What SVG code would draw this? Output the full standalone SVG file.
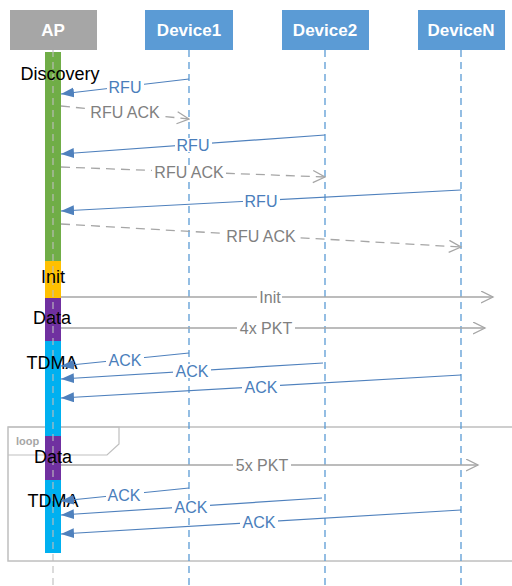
<svg xmlns="http://www.w3.org/2000/svg" width="512" height="586" viewBox="0 0 512 586">
<style>
.hdr{font-family:"Liberation Sans",Arial,sans-serif;font-weight:bold;font-size:17px;fill:#fff;text-anchor:middle}
.lbl{font-family:"Liberation Sans",Arial,sans-serif;font-size:18px;fill:#000;text-anchor:middle}
.mb{font-family:"Liberation Sans",Arial,sans-serif;font-size:16px;fill:#4a7ebb;text-anchor:middle}
.mg{font-family:"Liberation Sans",Arial,sans-serif;font-size:16px;fill:#808080;text-anchor:middle}
.lb{stroke:#4f81bd;stroke-width:1.2;fill:none;marker-end:url(#fa)}
.lg{stroke:#a6a6a6;stroke-width:1.3;fill:none;marker-end:url(#oa)}
.ld{stroke:#a6a6a6;stroke-width:1.3;fill:none;stroke-dasharray:9 6;marker-end:url(#oa)}
.bg{fill:#fff}
.life{stroke:#5b9bd5;stroke-width:1.3;stroke-dasharray:7 5;fill:none}
</style>
<defs>
<marker id="fa" markerUnits="userSpaceOnUse" markerWidth="14" markerHeight="11" refX="13" refY="5" orient="auto"><path d="M0,0 L13,5 L0,10 z" fill="#4f81bd"/></marker>
<marker id="oa" markerUnits="userSpaceOnUse" markerWidth="14" markerHeight="14" refX="12.5" refY="6.5" orient="auto"><path d="M0.5,0.5 L12.5,6.5 L0.5,12.5" fill="none" stroke="#a6a6a6" stroke-width="1.3"/></marker>
</defs>
<rect width="512" height="586" fill="#fff"/>

<g id="loop-frame">
<rect x="8" y="427" width="510" height="134" fill="none" stroke="#bfbfbf" stroke-width="1.5"/>
<path d="M8,427 L119,427 L119,444 L107,455 L8,455" fill="none" stroke="#bfbfbf" stroke-width="1.2"/>
<text x="16" y="445" font-family="Liberation Sans,Arial,sans-serif" font-size="11" font-weight="bold" fill="#a6a6a6">loop</text>
</g>

<g id="Device1">
<rect x="145" y="10" width="88" height="40" fill="#5b9bd5"/>
<text class="hdr" x="189" y="36">Device1</text>
<line class="life" x1="189" y1="50" x2="189" y2="586"/>
</g>
<g id="Device2">
<rect x="282" y="10" width="87" height="40" fill="#5b9bd5"/>
<text class="hdr" x="325" y="36">Device2</text>
<line class="life" x1="325" y1="50" x2="325" y2="586"/>
</g>
<g id="DeviceN">
<rect x="418" y="10" width="87" height="40" fill="#5b9bd5"/>
<text class="hdr" x="461" y="36">DeviceN</text>
<line class="life" x1="461" y1="50" x2="461" y2="586"/>
</g>

<g id="AP">
<rect x="10" y="10" width="87" height="40" fill="#a6a6a6"/>
<text class="hdr" x="53" y="36">AP</text>
<rect x="45" y="52" width="16" height="209" fill="#70ad47"/>
<rect x="45" y="261" width="16" height="37" fill="#ffc000"/>
<rect x="45" y="298" width="16" height="43" fill="#7030a0"/>
<rect x="45" y="341" width="16" height="95" fill="#00b0f0"/>
<rect x="45" y="436" width="16" height="44" fill="#7030a0"/>
<rect x="45" y="480" width="16" height="73" fill="#00b0f0"/>
<line x1="53" y1="50" x2="53" y2="586" stroke="#bfbfbf" stroke-width="1.3" stroke-dasharray="7 5" opacity="0.85"/>
<text class="lbl" x="60" y="80">Discovery</text>
<text class="lbl" x="53" y="283">Init</text>
<text class="lbl" x="52" y="324">Data</text>
<text class="lbl" x="52" y="369">TDMA</text>
<text class="lbl" x="53" y="463">Data</text>
<text class="lbl" x="53" y="507">TDMA</text>
</g>

<g id="connectors">
<line class="lb" x1="189" y1="79" x2="61" y2="94"/>
<rect class="bg" x="107" y="80" width="37" height="14"/><text class="mb" x="125" y="92.5">RFU</text>

<line class="ld" x1="61" y1="106" x2="189" y2="119"/>
<rect class="bg" x="88" y="106" width="74" height="14"/><text class="mg" x="125" y="118">RFU ACK</text>

<line class="lb" x1="325" y1="135" x2="61" y2="154"/>
<rect class="bg" x="175" y="138" width="37" height="14"/><text class="mb" x="193" y="150.5">RFU</text>

<line class="ld" x1="61" y1="167" x2="325" y2="177"/>
<rect class="bg" x="152" y="165" width="74" height="14"/><text class="mg" x="189" y="177.5">RFU ACK</text>

<line class="lb" x1="461" y1="190" x2="61" y2="211"/>
<rect class="bg" x="243" y="194" width="37" height="14"/><text class="mb" x="261" y="206.5">RFU</text>

<line class="ld" x1="61" y1="224" x2="461" y2="247"/>
<rect class="bg" x="224" y="229" width="74" height="14"/><text class="mg" x="261" y="241.5">RFU ACK</text>

<line class="lg" x1="61" y1="297" x2="493" y2="297"/>
<rect class="bg" x="257" y="290" width="25" height="14"/><text class="mg" x="270" y="302.5">Init</text>

<line class="lg" x1="61" y1="328" x2="485" y2="328"/>
<rect class="bg" x="237" y="321" width="58" height="14"/><text class="mg" x="266" y="333.5">4x PKT</text>

<line class="lb" x1="189" y1="353" x2="61" y2="366"/>
<rect class="bg" x="106" y="353" width="38" height="14"/><text class="mb" x="125" y="365.5">ACK</text>

<line class="lb" x1="323" y1="363" x2="61" y2="379"/>
<rect class="bg" x="173" y="364" width="38" height="14"/><text class="mb" x="192" y="377">ACK</text>

<line class="lb" x1="461" y1="375" x2="61" y2="398"/>
<rect class="bg" x="242" y="380" width="38" height="14"/><text class="mb" x="261" y="392.5">ACK</text>

<line class="lg" x1="61" y1="465" x2="478" y2="465"/>
<rect class="bg" x="233" y="458" width="58" height="14"/><text class="mg" x="262" y="470.5">5x PKT</text>

<line class="lb" x1="189" y1="488" x2="61" y2="501"/>
<rect class="bg" x="106" y="488" width="38" height="14"/><text class="mb" x="124" y="500.5">ACK</text>

<line class="lb" x1="322" y1="498" x2="61" y2="515"/>
<rect class="bg" x="172" y="500" width="38" height="14"/><text class="mb" x="191" y="512.5">ACK</text>

<line class="lb" x1="461" y1="510" x2="61" y2="534"/>
<rect class="bg" x="240" y="515" width="38" height="14"/><text class="mb" x="259" y="527.5">ACK</text>
</g>
</svg>
